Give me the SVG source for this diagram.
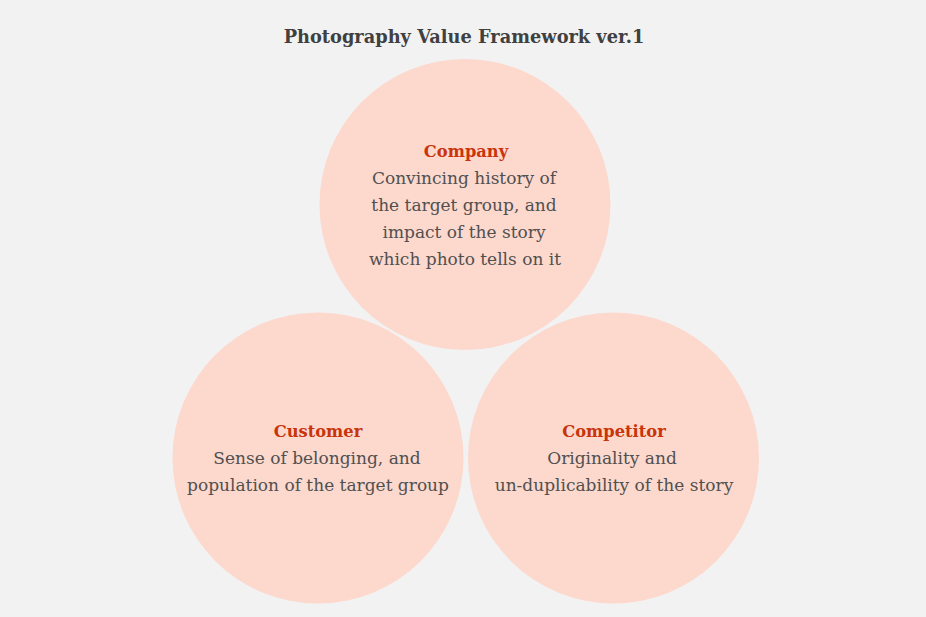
<svg xmlns="http://www.w3.org/2000/svg" width="926" height="617" viewBox="0 0 926 617">
<style>
.c{fill:#fdd8cd}
.h{font-family:"DejaVu Serif","Liberation Serif",serif;font-size:16.3px;font-weight:bold;fill:#c9340a;text-anchor:middle}
.t{font-family:"DejaVu Serif","Liberation Serif",serif;font-size:17px;fill:#505050;text-anchor:middle}
.title{font-family:"DejaVu Serif","Liberation Serif",serif;font-size:17.8px;font-weight:bold;fill:#404040;text-anchor:middle}
</style>
<rect width="926" height="617" fill="#f2f2f2"/>
<text class="title" x="464" y="43">Photography Value Framework ver.1</text>
<g id="company">
<circle class="c" cx="465" cy="204.5" r="145.5"/>
<text class="h" x="466" y="157">Company</text>
<text class="t" x="464" y="184">Convincing history of</text>
<text class="t" x="464" y="211">the target group, and</text>
<text class="t" x="464" y="238">impact of the story</text>
<text class="t" x="465" y="265">which photo tells on it</text>
</g>
<g id="customer">
<circle class="c" cx="318" cy="458" r="145.5"/>
<text class="h" x="318" y="437">Customer</text>
<text class="t" x="317" y="464">Sense of belonging, and</text>
<text class="t" x="318" y="491">population of the target group</text>
</g>
<g id="competitor">
<circle class="c" cx="613.5" cy="458" r="145.5"/>
<text class="h" x="614" y="437">Competitor</text>
<text class="t" x="612" y="464">Originality and</text>
<text class="t" x="614" y="491">un-duplicability of the story</text>
</g>
<g id="connectors"/>
</svg>
